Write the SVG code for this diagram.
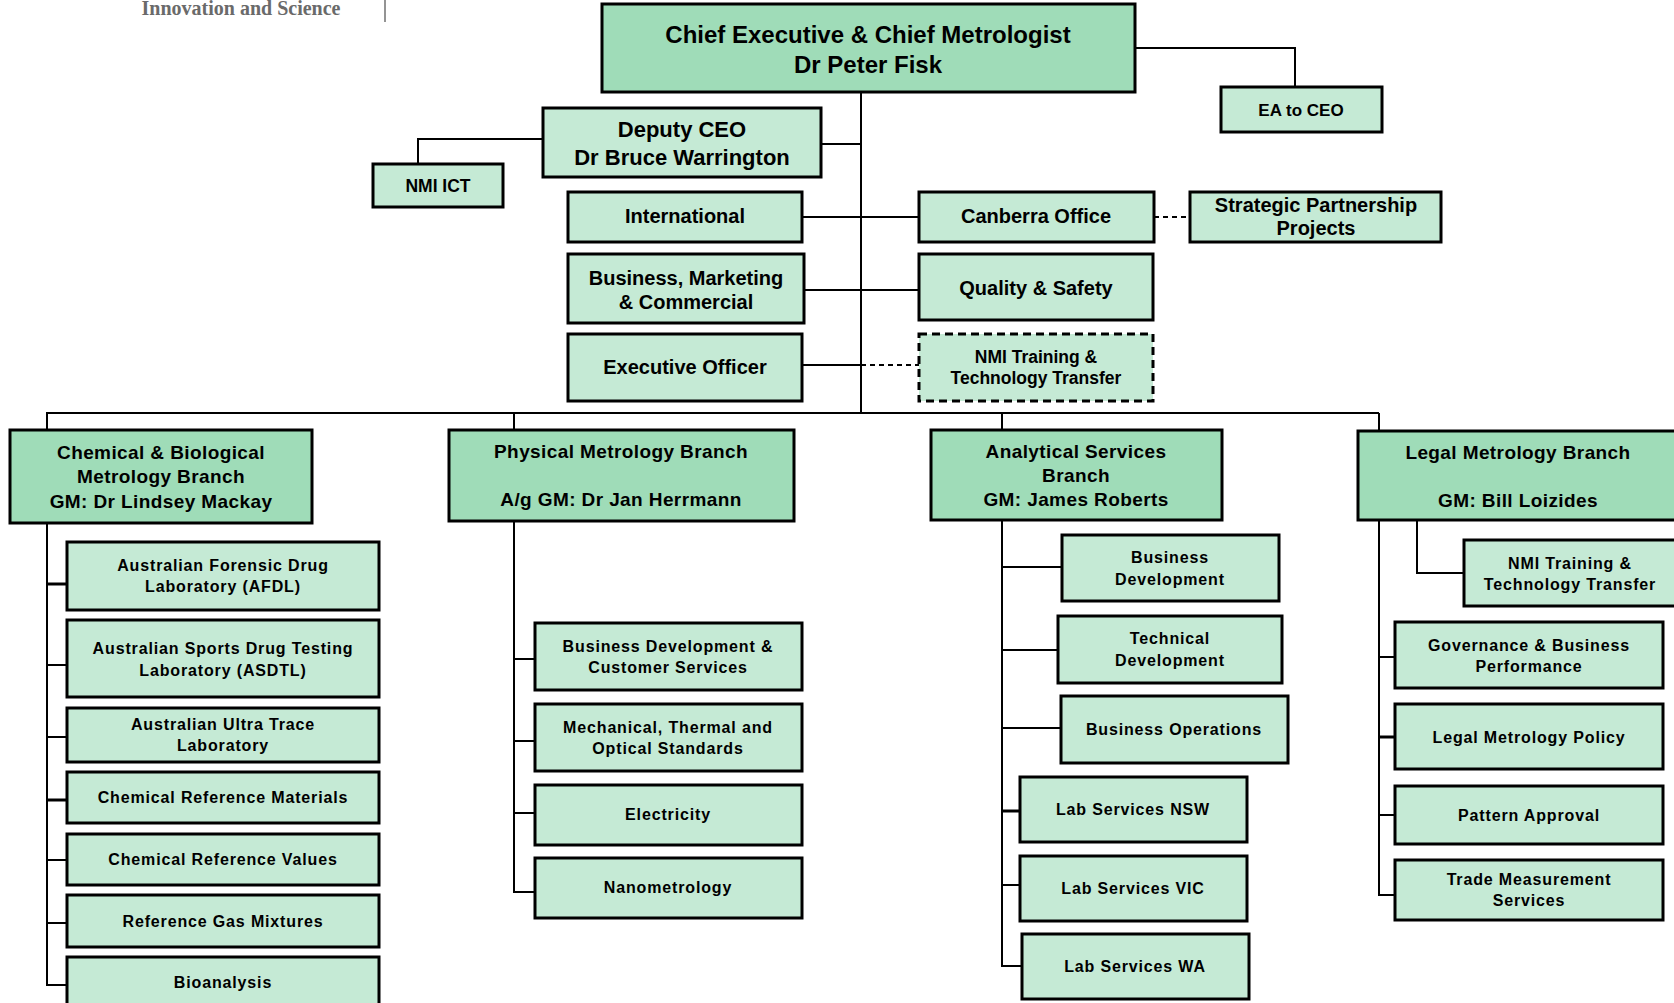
<svg xmlns="http://www.w3.org/2000/svg" width="1674" height="1003" viewBox="0 0 1674 1003">
<style>
.d{fill:#9fdcb8;stroke:#000;stroke-width:3}
.l{fill:#c5ead5;stroke:#000;stroke-width:3}
.ds{fill:#c5ead5;stroke:#000;stroke-width:3;stroke-dasharray:8 5}
.c{fill:none;stroke:#000;stroke-width:2}
.ck{fill:none;stroke:#000;stroke-width:3}
.cd{fill:none;stroke:#000;stroke-width:2;stroke-dasharray:5 4}
text{font-family:"Liberation Sans",Arial,sans-serif;font-weight:bold;fill:#000;text-anchor:middle}
.t2{font-size:19px;letter-spacing:0.4px}
.t3{font-size:16px;letter-spacing:0.85px}
</style>
<rect width="1674" height="1003" fill="#fff"/>
<text x="241" y="15" style="font-family:'Liberation Serif','Times New Roman',serif;font-size:20px;fill:#6a6a6a">Innovation and Science</text>
<line x1="385" y1="0" x2="385" y2="22" stroke="#707070" stroke-width="1.5"/>

<g id="connectors">
<path class="c" d="M1135 48H1295V87"/>
<path class="c" d="M861 92V413"/>
<path class="c" d="M821 144H861"/>
<path class="c" d="M543 139H418V163"/>
<path class="c" d="M802 217H919"/>
<path class="cd" d="M1154 217H1190"/>
<path class="c" d="M804 290H919"/>
<path class="c" d="M802 365H861"/>
<path class="cd" d="M861 365H919"/>
<path class="c" d="M46 413H1379"/>
<path class="c" d="M47 413V430M514 413V430M1002 413V430M1379 413V431"/>
<path class="c" d="M47 523V985H67"/>
<path class="ck" d="M47 584H67"/>
<path class="c" d="M47 665H67M47 737H67M47 860H67M47 923H67"/>
<path class="ck" d="M47 800H67"/>
<path class="c" d="M514 521V892H535"/>
<path class="c" d="M514 659H535M514 741H535M514 813H535"/>
<path class="c" d="M1002 520V966H1022"/>
<path class="c" d="M1002 567H1062M1002 650H1058M1002 728H1061M1002 885H1020"/>
<path class="ck" d="M1002 811H1020"/>
<path class="c" d="M1379 520V895H1395"/>
<path class="c" d="M1379 657H1395M1379 815H1395"/>
<path class="ck" d="M1379 737H1395"/>
<path class="c" d="M1417 520V573H1464"/>
</g>

<g id="ceo"><rect class="d" x="602" y="4" width="533" height="88"/>
<text x="868" y="43" font-size="24">Chief Executive &amp; Chief Metrologist</text>
<text x="868" y="73" font-size="24">Dr Peter Fisk</text></g>
<g id="ea"><rect class="l" x="1221" y="87" width="161" height="45"/>
<text x="1301" y="116" font-size="17">EA to CEO</text></g>
<g id="deputy"><rect class="l" x="543" y="108" width="278" height="69"/>
<text x="682" y="137" font-size="22">Deputy CEO</text>
<text x="682" y="165" font-size="22">Dr Bruce Warrington</text></g>
<g id="nmi-ict"><rect class="l" x="373" y="164" width="130" height="43"/>
<text x="438" y="192" font-size="17.5">NMI ICT</text></g>
<g id="international"><rect class="l" x="568" y="192" width="234" height="50"/>
<text x="685" y="223" font-size="20">International</text></g>
<g id="canberra"><rect class="l" x="919" y="192" width="235" height="50"/>
<text x="1036" y="223" font-size="20">Canberra Office</text></g>
<g id="strategic"><rect class="l" x="1190" y="192" width="251" height="50"/>
<text x="1316" y="212" font-size="20">Strategic Partnership</text>
<text x="1316" y="235" font-size="20">Projects</text></g>
<g id="bmc"><rect class="l" x="568" y="254" width="236" height="69"/>
<text x="686" y="285" font-size="20">Business, Marketing</text>
<text x="686" y="309" font-size="20">&amp; Commercial</text></g>
<g id="quality"><rect class="l" x="919" y="254" width="234" height="66"/>
<text x="1036" y="295" font-size="20">Quality &amp; Safety</text></g>
<g id="exec"><rect class="l" x="568" y="334" width="234" height="67"/>
<text x="685" y="374" font-size="20">Executive Officer</text></g>
<g id="nmi-training"><rect class="ds" x="919" y="334" width="234" height="67"/>
<text x="1036" y="363" font-size="17.5">NMI Training &amp;</text>
<text x="1036" y="384" font-size="17.5">Technology Transfer</text></g>

<g id="chem"><rect class="d" x="10" y="430" width="302" height="93"/>
<text class="t2" x="161" y="459">Chemical &amp; Biological</text>
<text class="t2" x="161" y="483">Metrology Branch</text>
<text class="t2" x="161" y="508">GM: Dr Lindsey Mackay</text></g>
<g id="afdl"><rect class="l" x="67" y="542" width="312" height="68"/>
<text class="t3" x="223" y="571">Australian Forensic Drug</text>
<text class="t3" x="223" y="592">Laboratory (AFDL)</text></g>
<g id="asdtl"><rect class="l" x="67" y="620" width="312" height="77"/>
<text class="t3" x="223" y="654">Australian Sports Drug Testing</text>
<text class="t3" x="223" y="676">Laboratory (ASDTL)</text></g>
<g id="ultra"><rect class="l" x="67" y="708" width="312" height="54"/>
<text class="t3" x="223" y="730">Australian Ultra Trace</text>
<text class="t3" x="223" y="751">Laboratory</text></g>
<g id="crm"><rect class="l" x="67" y="772" width="312" height="51"/>
<text class="t3" x="223" y="803">Chemical Reference Materials</text></g>
<g id="crv"><rect class="l" x="67" y="834" width="312" height="51"/>
<text class="t3" x="223" y="865">Chemical Reference Values</text></g>
<g id="rgm"><rect class="l" x="67" y="895" width="312" height="52"/>
<text class="t3" x="223" y="927">Reference Gas Mixtures</text></g>
<g id="bio"><rect class="l" x="67" y="957" width="312" height="52"/>
<text class="t3" x="223" y="988">Bioanalysis</text></g>

<g id="phys"><rect class="d" x="449" y="430" width="345" height="91"/>
<text class="t2" x="621" y="458">Physical Metrology Branch</text>
<text class="t2" x="621" y="506">A/g GM: Dr Jan Herrmann</text></g>
<g id="bdcs"><rect class="l" x="535" y="623" width="267" height="67"/>
<text class="t3" x="668" y="652">Business Development &amp;</text>
<text class="t3" x="668" y="673">Customer Services</text></g>
<g id="mto"><rect class="l" x="535" y="704" width="267" height="67"/>
<text class="t3" x="668" y="733">Mechanical, Thermal and</text>
<text class="t3" x="668" y="754">Optical Standards</text></g>
<g id="elec"><rect class="l" x="535" y="785" width="267" height="60"/>
<text class="t3" x="668" y="820">Electricity</text></g>
<g id="nano"><rect class="l" x="535" y="858" width="267" height="60"/>
<text class="t3" x="668" y="893">Nanometrology</text></g>

<g id="analytical"><rect class="d" x="931" y="430" width="291" height="90"/>
<text class="t2" x="1076" y="458">Analytical Services</text>
<text class="t2" x="1076" y="482">Branch</text>
<text class="t2" x="1076" y="506">GM: James Roberts</text></g>
<g id="busdev"><rect class="l" x="1062" y="535" width="217" height="66"/>
<text class="t3" x="1170" y="563">Business</text>
<text class="t3" x="1170" y="585">Development</text></g>
<g id="techdev"><rect class="l" x="1058" y="616" width="224" height="67"/>
<text class="t3" x="1170" y="644">Technical</text>
<text class="t3" x="1170" y="666">Development</text></g>
<g id="busops"><rect class="l" x="1061" y="696" width="227" height="67"/>
<text class="t3" x="1174" y="735">Business Operations</text></g>
<g id="nsw"><rect class="l" x="1020" y="777" width="227" height="65"/>
<text class="t3" x="1133" y="815">Lab Services NSW</text></g>
<g id="vic"><rect class="l" x="1020" y="856" width="227" height="65"/>
<text class="t3" x="1133" y="894">Lab Services VIC</text></g>
<g id="wa"><rect class="l" x="1022" y="934" width="227" height="65"/>
<text class="t3" x="1135" y="972">Lab Services WA</text></g>

<g id="legal"><rect class="d" x="1358" y="431" width="320" height="89"/>
<text class="t2" x="1518" y="459">Legal Metrology Branch</text>
<text class="t2" x="1518" y="507">GM: Bill Loizides</text></g>
<g id="nmi-training-legal"><rect class="l" x="1464" y="540" width="213" height="66"/>
<text class="t3" x="1570" y="569">NMI Training &amp;</text>
<text class="t3" x="1570" y="590">Technology Transfer</text></g>
<g id="gov"><rect class="l" x="1395" y="622" width="268" height="66"/>
<text class="t3" x="1529" y="651">Governance &amp; Business</text>
<text class="t3" x="1529" y="672">Performance</text></g>
<g id="lmp"><rect class="l" x="1395" y="704" width="268" height="65"/>
<text class="t3" x="1529" y="743">Legal Metrology Policy</text></g>
<g id="pattern"><rect class="l" x="1395" y="786" width="268" height="58"/>
<text class="t3" x="1529" y="821">Pattern Approval</text></g>
<g id="trade"><rect class="l" x="1395" y="860" width="268" height="60"/>
<text class="t3" x="1529" y="885">Trade Measurement</text>
<text class="t3" x="1529" y="906">Services</text></g>
</svg>
